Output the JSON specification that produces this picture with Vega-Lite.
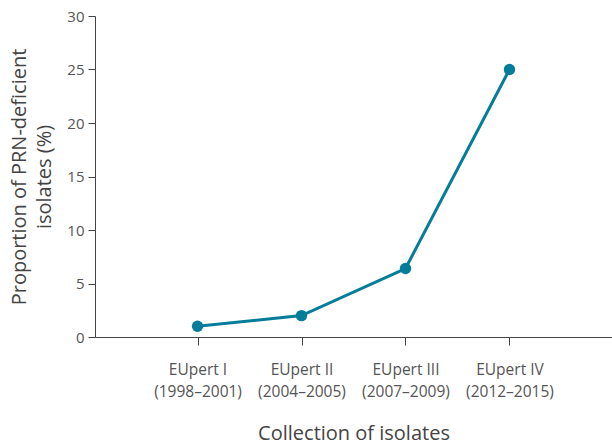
{
  "$schema": "https://vega.github.io/schema/vega-lite/v6.json",
  "width": 517,
  "height": 321,
  "autosize": "none",
  "padding": {"left": 95, "top": 16, "right": 0, "bottom": 109},
  "background": "white",
  "config": {"view": {"stroke": null}, "font": "Open Sans"},
  "data": {"values": [
    {"collection": "EUpert I|(1998–2001)", "pct": 1.0},
    {"collection": "EUpert II|(2004–2005)", "pct": 2.0},
    {"collection": "EUpert III|(2007–2009)", "pct": 6.4},
    {"collection": "EUpert IV|(2012–2015)", "pct": 25.0}
  ]},
  "encoding": {
    "x": {"field": "collection", "type": "ordinal", "sort": null,
      "scale": {"type": "point", "padding": 0.986},
      "axis": {"title": "Collection of isolates", "labelAngle": 0,
        "labelExpr": "split(datum.label, '|')", "labelLineHeight": 22,
        "labelFontSize": 15.5, "labelColor": "#555555", "labelPadding": 17,
        "domainColor": "#444444", "tickColor": "#444444", "tickSize": 8,
        "titleFontSize": 20, "titleFontWeight": "normal", "titleColor": "#444444", "titlePadding": 24}},
    "y": {"field": "pct", "type": "quantitative",
      "scale": {"domain": [0, 30], "nice": false},
      "axis": {"title": ["Proportion of PRN-deficient", "isolates (%)"], "values": [0,5,10,15,20,25,30],
        "grid": false, "labelFontSize": 15, "labelColor": "#555555", "labelPadding": 4,
        "domainColor": "#444444", "tickColor": "#444444", "tickSize": 7,
        "titleFontSize": 20, "titleFontWeight": "normal", "titleColor": "#444444", "titlePadding": 12, "titleLineHeight": 25}}
  },
  "layer": [
    {"mark": {"type": "line", "color": "#057d9a", "strokeWidth": 3}},
    {"mark": {"type": "point", "filled": true, "color": "#057d9a", "size": 130, "opacity": 1}}
  ]
}
